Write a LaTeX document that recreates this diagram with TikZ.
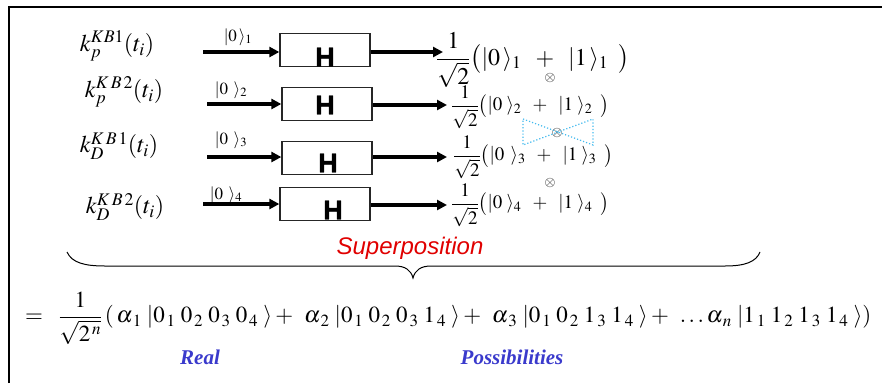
\documentclass[tikz,border=0pt]{standalone}
\usepackage{amsmath}
\usepackage{mathptmx}
\usepackage{fontspec}
\setmainfont{Liberation Serif}
\newfontfamily\arialf{Liberation Sans}
\newfontfamily\hfont[BoldFeatures={FakeBold=1.5}]{Liberation Sans}
\usetikzlibrary{arrows.meta}
\definecolor{supred}{HTML}{E00000}
\definecolor{realblue}{HTML}{3A3ACC}
\definecolor{dotblue}{HTML}{44BBEE}
\newcommand{\qd}[2]{#1_{\,#2}\;}
\tikzset{
  thickarrow/.style={line width=3.4pt,-{Triangle[length=10pt,width=10pt]}},
  hbox/.style={draw=black!85,line width=1.3pt,minimum width=90pt,minimum height=33pt,inner sep=0pt},
  hlet/.style={font=\hfont\bfseries\fontsize{27}{27}\selectfont,inner sep=0pt},
  klabel/.style={font=\fontsize{24}{28}\selectfont,inner sep=0pt},
  ketlabel/.style={font=\fontsize{17}{20}\selectfont,inner sep=0pt},
  bigexpr/.style={font=\fontsize{24}{28}\selectfont,inner sep=0pt,anchor=west},
  smallexpr/.style={font=\fontsize{19}{22}\selectfont,inner sep=0pt,anchor=west},
  tens/.style={font=\fontsize{14}{14}\selectfont,inner sep=0pt},
  bowtie/.style={dotblue,line width=1.2pt,dotted},
  bluelabel/.style={realblue,font=\bfseries\itshape\fontsize{21}{24}\selectfont,inner sep=0pt},
}
\begin{document}
\begin{tikzpicture}[x=1pt,y=-1pt]
\useasboundingbox (0,0) rectangle (882,383);
% frame
\draw[line width=2.5pt] (9,383) -- (9,7) -- (882,7);

% left labels
\node[klabel] (l1) at (117,46) {$k_p^{KB1}(t_i)$};
\node[klabel] (l2) at (124,92) {$k_p^{K\,B\,2}(t_i)$};
\node[klabel] (l3) at (119,146) {$k_D^{K\,B\,1}(t_i)$};
\node[klabel] (l4) at (125,207) {$k_D^{K\,B\,2}(t_i)$};

% boxes
\node[hbox] (b1) at (325,50) {};
\node[hbox] (b2) at (327,104) {};
\node[hbox] (b3) at (327,158) {};
\node[hbox] (b4) at (325,204) {};
\node[hlet] (h1) at (325,57) {H};
\node[hlet] (h2) at (325,105) {H};
\node[hlet] (h3) at (328,163) {H};
\node[hlet] (h4) at (333,210) {H};

% input arrows
\coordinate (i1) at (203,52);
\coordinate (i2) at (207,104);
\coordinate (i3) at (207,157);
\coordinate (i4) at (203,204);
\draw[thickarrow] (i1) -- (i1 -| b1.west);
\draw[thickarrow] (i2) -- (i2 -| b2.west);
\draw[thickarrow] (i3) -- (i3 -| b3.west);
\draw[thickarrow] (i4) -- (i4 -| b4.west);
\node[ketlabel] (k1) at (238,37) {$|0\,\rangle_1$};
\node[ketlabel] (k2) at (231,90) {$|0\;\,\rangle_2$};
\node[ketlabel] (k3) at (231,140) {$|0\;\,\rangle_3$};
\node[ketlabel] (k4) at (226,195) {$|0\;\,\rangle_4$};

% output arrows and expressions
\coordinate (o1) at (443,52);
\coordinate (o2) at (447,105);
\coordinate (o3) at (447,157);
\coordinate (o4) at (447,205);
\draw[thickarrow] (b1.east |- o1) -- (o1);
\draw[thickarrow] (b2.east |- o2) -- (o2);
\draw[thickarrow] (b3.east |- o3) -- (o3);
\draw[thickarrow] (b4.east |- o4) -- (o4);
\node[bigexpr] (e1) at (436,60) {$\dfrac{1}{\sqrt{2}}\bigl(|0\,\rangle_1\;\;+\;\;|1\,\rangle_1\;\;\bigr)$};
\node[smallexpr] (e2) at (451,107) {$\dfrac{1}{\sqrt{2}}\bigl(|0\;\rangle_2\;\;+\;\;|1\;\rangle_2\;\;\bigr)$};
\node[smallexpr] (e3) at (453,157) {$\dfrac{1}{\sqrt{2}}\bigl(|0\;\,\rangle_3\;\;+\;\;|1\;\rangle_3\;\;\bigr)$};
\node[smallexpr] (e4) at (451,205) {$\dfrac{1}{\sqrt{2}}\bigl(|0\;\rangle_4\;\;+\;\;|1\;\rangle_4\;\;\bigr)$};

% tensor symbols
\node[tens] (t1) at (550,78) {$\otimes$};
\node[tens] (t2) at (557,133) {$\otimes$};
\node[tens] (t3) at (550,183) {$\otimes$};
\coordinate (bw1) at (523,119);
\coordinate (bw2) at (593,119);
\coordinate (bw3) at (593,145);
\coordinate (bw4) at (523,145);
\draw[bowtie] (bw1) -- (bw3) -- (bw2) -- (bw4) -- cycle;

% brace
\draw[line width=1pt] (67,252) .. controls (72,263) and (85,266) .. (105,266) -- (395,266)
  .. controls (405,266) and (411,270) .. (413,278)
  .. controls (415,270) and (421,266) .. (431,266) -- (725,266)
  .. controls (745,266) and (756,262) .. (760,252);
\node[supred,font=\arialf\itshape\fontsize{24}{28}\selectfont,inner sep=0pt] (sup) at (410,248) {Superposition};

% bottom equation
\node[font=\fontsize{23}{26}\selectfont,inner sep=0pt,anchor=west] (eq) at (25,318)
 {$\displaystyle=\;\;\frac{1}{\sqrt{2^{\,n}}}\,(\,\alpha_{\,1}\;|\qd01\qd02\qd03\qd04\rangle+\;\,\alpha_{\,2}\;|\qd01\qd02\qd03\qd14\rangle+\;\,\alpha_{\,3}\;|\qd01\qd02\qd13\qd14\rangle+\;\,\ldots\alpha_{\,n}\;|\qd11\qd12\qd13\qd14\rangle)$};

\node[bluelabel] (real) at (200,357) {Real};
\node[bluelabel] (poss) at (512,357) {Possibilities};
\end{tikzpicture}
\end{document}
